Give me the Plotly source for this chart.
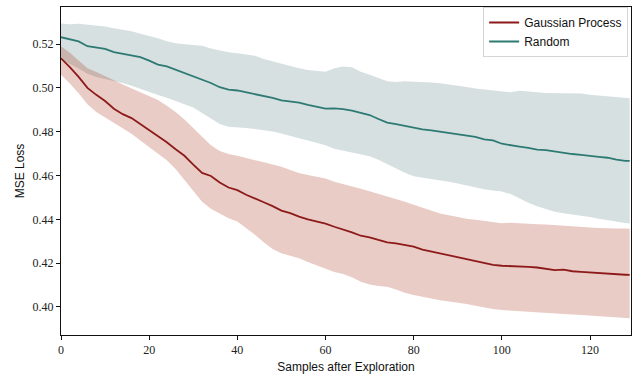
import plotly.graph_objects as go

x = list(range(0, 130, 2)) + [129]

gp_mean = [0.5135, 0.5095, 0.5050, 0.5000, 0.4968, 0.4940, 0.4905, 0.4880, 0.4862, 0.4835,
           0.4806, 0.4778, 0.4752, 0.4720, 0.4690, 0.4650, 0.4612, 0.4598, 0.4568, 0.4545,
           0.4533, 0.4512, 0.4496, 0.4478, 0.4460, 0.4440, 0.4428, 0.4412, 0.4400, 0.4390,
           0.4380, 0.4366, 0.4354, 0.4340, 0.4325, 0.4318, 0.4306, 0.4295, 0.4290, 0.4283,
           0.4275, 0.4262, 0.4253, 0.4244, 0.4236, 0.4228, 0.4220, 0.4211, 0.4199, 0.4192,
           0.4188, 0.4187, 0.4184, 0.4183, 0.4180, 0.4174, 0.4168, 0.4170, 0.4163, 0.4160,
           0.4157, 0.4153, 0.4152, 0.4150, 0.4147, 0.4146]
gp_upper = [0.5190, 0.5160, 0.5125, 0.5090, 0.5072, 0.5055, 0.5035, 0.5015, 0.4998, 0.4980,
            0.4962, 0.4944, 0.4918, 0.4890, 0.4855, 0.4815, 0.4775, 0.4738, 0.4712, 0.4698,
            0.4690, 0.4681, 0.4672, 0.4660, 0.4650, 0.4640, 0.4625, 0.4611, 0.4602, 0.4594,
            0.4586, 0.4572, 0.4562, 0.4553, 0.4540, 0.4528, 0.4516, 0.4506, 0.4495, 0.4480,
            0.4466, 0.4452, 0.4440, 0.4427, 0.4418, 0.4410, 0.4403, 0.4398, 0.4392, 0.4388,
            0.4382, 0.4384, 0.4381, 0.4381, 0.4378, 0.4376, 0.4374, 0.4372, 0.4369, 0.4366,
            0.4363, 0.4360, 0.4358, 0.4358, 0.4358, 0.4357]
gp_lower = [0.5060, 0.5020, 0.4975, 0.4925, 0.4890, 0.4865, 0.4838, 0.4812, 0.4790, 0.4760,
            0.4730, 0.4702, 0.4670, 0.4630, 0.4580, 0.4525, 0.4480, 0.4448, 0.4425, 0.4405,
            0.4390, 0.4360, 0.4330, 0.4295, 0.4265, 0.4245, 0.4232, 0.4222, 0.4205, 0.4190,
            0.4175, 0.4160, 0.4150, 0.4136, 0.4115, 0.4102, 0.4096, 0.4092, 0.4080, 0.4065,
            0.4055, 0.4046, 0.4038, 0.4031, 0.4025, 0.4020, 0.4014, 0.4006, 0.3998, 0.3991,
            0.3986, 0.3983, 0.3980, 0.3978, 0.3975, 0.3972, 0.3970, 0.3968, 0.3965, 0.3963,
            0.3960, 0.3957, 0.3954, 0.3951, 0.3949, 0.3948]

rnd_mean = [0.5231, 0.5222, 0.5212, 0.5190, 0.5183, 0.5178, 0.5163, 0.5155, 0.5150, 0.5140,
            0.5124, 0.5106, 0.5098, 0.5083, 0.5068, 0.5055, 0.5038, 0.5022, 0.5003, 0.4992,
            0.4988, 0.4980, 0.4970, 0.4962, 0.4954, 0.4943, 0.4938, 0.4933, 0.4922, 0.4912,
            0.4905, 0.4906, 0.4903, 0.4896, 0.4887, 0.4876, 0.4858, 0.4841, 0.4834, 0.4826,
            0.4816, 0.4810, 0.4806, 0.4800, 0.4795, 0.4789, 0.4784, 0.4776, 0.4765, 0.4760,
            0.4745, 0.4737, 0.4732, 0.4726, 0.4718, 0.4716, 0.4709, 0.4702, 0.4698, 0.4694,
            0.4688, 0.4685, 0.4681, 0.4672, 0.4667, 0.4667]
rnd_upper = [0.5294, 0.5290, 0.5292, 0.5288, 0.5285, 0.5280, 0.5272, 0.5265, 0.5258, 0.5247,
             0.5237, 0.5226, 0.5213, 0.5203, 0.5199, 0.5195, 0.5192, 0.5180, 0.5170, 0.5163,
             0.5158, 0.5152, 0.5146, 0.5132, 0.5121, 0.5110, 0.5098, 0.5090, 0.5082, 0.5078,
             0.5074, 0.5090, 0.5097, 0.5094, 0.5073, 0.5060, 0.5045, 0.5030, 0.5027, 0.5030,
             0.5028, 0.5027, 0.5024, 0.5021, 0.5016, 0.5010, 0.5004, 0.4997, 0.4992, 0.4988,
             0.4982, 0.4980, 0.4987, 0.4982, 0.4980, 0.4976, 0.4975, 0.4977, 0.4976, 0.4974,
             0.4968, 0.4965, 0.4962, 0.4958, 0.4954, 0.4952]
rnd_lower = [0.5130, 0.5110, 0.5088, 0.5064, 0.5050, 0.5040, 0.5032, 0.5022, 0.5010, 0.4995,
             0.4980, 0.4967, 0.4955, 0.4940, 0.4925, 0.4910, 0.4885, 0.4860, 0.4835, 0.4822,
             0.4820, 0.4817, 0.4812, 0.4807, 0.4801, 0.4792, 0.4780, 0.4770, 0.4760, 0.4749,
             0.4738, 0.4722, 0.4714, 0.4707, 0.4698, 0.4688, 0.4672, 0.4652, 0.4635, 0.4612,
             0.4596, 0.4590, 0.4585, 0.4579, 0.4572, 0.4563, 0.4554, 0.4546, 0.4537, 0.4532,
             0.4527, 0.4515, 0.4495, 0.4476, 0.4460, 0.4446, 0.4435, 0.4428, 0.4422, 0.4418,
             0.4410, 0.4402, 0.4395, 0.4388, 0.4383, 0.4381]

x_ticks = [0, 20, 40, 60, 80, 100, 120]
y_ticks = [0.40, 0.42, 0.44, 0.46, 0.48, 0.50, 0.52]

GP_LINE = "#8d1a1a"
RND_LINE = "#2e7a73"
GP_FILL = "rgba(168,52,22,0.25)"
RND_FILL = "rgba(90,130,135,0.25)"

fig = go.Figure()
fig.add_trace(go.Scatter(x=x, y=rnd_upper, mode="lines", line=dict(width=0),
                         showlegend=False, hoverinfo="skip"))
fig.add_trace(go.Scatter(x=x, y=rnd_lower, mode="lines", line=dict(width=0),
                         fill="tonexty", fillcolor=RND_FILL, showlegend=False, hoverinfo="skip"))
fig.add_trace(go.Scatter(x=x, y=gp_upper, mode="lines", line=dict(width=0),
                         showlegend=False, hoverinfo="skip"))
fig.add_trace(go.Scatter(x=x, y=gp_lower, mode="lines", line=dict(width=0),
                         fill="tonexty", fillcolor=GP_FILL, showlegend=False, hoverinfo="skip"))
fig.add_trace(go.Scatter(x=x, y=gp_mean, mode="lines", name="Gaussian Process",
                         line=dict(color=GP_LINE, width=1.8)))
fig.add_trace(go.Scatter(x=x, y=rnd_mean, mode="lines", name="Random",
                         line=dict(color=RND_LINE, width=1.8)))

tick_font = dict(family="Liberation Serif", size=12, color="#222")
title_font = dict(family="Liberation Sans, Arial, sans-serif", size=12, color="#111")

fig.update_layout(
    width=636, height=376,
    margin=dict(l=61, r=5, t=7, b=41),
    paper_bgcolor="white", plot_bgcolor="white",
    showlegend=True,
    legend=dict(x=0.995, y=1.0, xanchor="right", yanchor="top",
                traceorder="normal", itemwidth=30,
                bgcolor="rgba(255,255,255,0.85)", bordercolor="#d5d5d5", borderwidth=1,
                font=dict(family="Liberation Sans, Arial, sans-serif", size=12, color="#111"),
                tracegroupgap=0),
)
fig.update_xaxes(
    range=[0, 129.3], tickvals=x_ticks, ticktext=[str(v) for v in x_ticks],
    showgrid=False, zeroline=False, showline=True, linecolor="#111", linewidth=1, mirror=True,
    ticks="outside", ticklen=4, tickcolor="#111", tickfont=tick_font,
    title=dict(text="Samples after Exploration", font=title_font, standoff=6),
)
fig.update_yaxes(
    range=[0.3872, 0.5369], tickvals=y_ticks, ticktext=[f"{v:.2f}" for v in y_ticks],
    showgrid=False, zeroline=False, showline=True, linecolor="#111", linewidth=1, mirror=True,
    ticks="outside", ticklen=4, tickcolor="#111", tickfont=tick_font,
    title=dict(text="MSE Loss", font=title_font, standoff=5),
)

fig.write_html("out.html")
